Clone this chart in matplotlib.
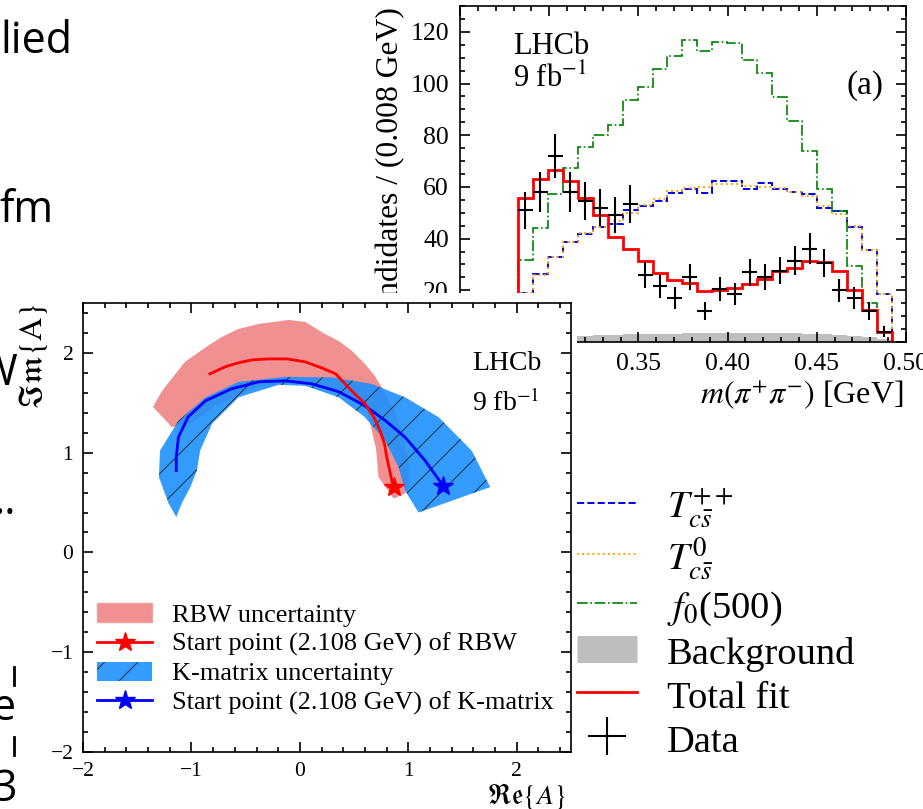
import numpy as np
import matplotlib
matplotlib.use("Agg")
import matplotlib.pyplot as plt
from matplotlib.patches import Patch, Rectangle
from matplotlib.lines import Line2D
from matplotlib.ticker import MultipleLocator, FuncFormatter

plt.rcParams['font.family'] = 'serif'
plt.rcParams['font.serif'] = ['Liberation Serif', 'DejaVu Serif']
plt.rcParams['mathtext.fontset'] = 'stix'
plt.rcParams['hatch.linewidth'] = 0.7

# --- panel (a): m(pi+ pi-) histogram ---
bin_lo = 0.2825
bin_width = 0.00838
data = [51.0, 58.0, 72.0, 58.0, 54.5, 52.0, 49.0, 53.5, 26.0, 21.5, 17.0, 25.0, 12.0,
        20.5, 18.5, 27.0, 25.0, 27.5, 31.5, 36.0, 30.5, 20.0, 17.0, 12.0, 4.0]
data_err = [7.1, 7.6, 8.5, 7.6, 7.4, 7.2, 7.0, 7.3, 5.1, 4.6, 4.1, 5.0, 3.5,
            4.5, 4.3, 5.2, 5.0, 5.2, 5.6, 6.0, 5.5, 4.5, 4.1, 3.5, 2.0]
total_fit = [55.8, 62.9, 66.4, 62.3, 55.6, 49.0, 40.7, 35.8, 31.3, 26.6, 24.0, 22.8, 19.6,
             20.2, 21.0, 22.3, 24.5, 27.5, 28.8, 31.5, 30.8, 27.3, 20.0, 12.5, 4.0]
tcs_pp = [19.1, 26.2, 33.0, 38.7, 41.9, 44.5, 45.5, 50.9, 52.6, 54.5, 57.8, 59.3, 57.5,
          62.3, 62.3, 59.3, 61.6, 59.3, 58.0, 57.1, 51.9, 50.7, 44.5, 35.6, 18.4]
tcs_0 = [19.1, 26.0, 33.0, 38.7, 42.0, 44.5, 47.0, 50.0, 53.0, 55.5, 58.5, 59.5, 60.0,
         61.0, 61.0, 60.5, 60.0, 59.5, 58.0, 56.5, 52.5, 49.5, 45.0, 35.6, 18.4]
f0_500 = [31.6, 44.2, 57.4, 67.5, 75.5, 80.0, 83.8, 93.7, 98.8, 105.5, 110.7, 116.9, 112.6,
          116.1, 115.8, 109.0, 104.2, 94.9, 85.5, 73.9, 59.1, 50.7, 29.4, 15.2, 4.0]
background = [1.0, 1.5, 2.0, 2.3, 2.5, 2.7, 2.8, 3.0, 3.0, 3.1, 3.2, 3.3, 3.3,
              3.4, 3.4, 3.5, 3.5, 3.4, 3.3, 3.2, 3.0, 2.8, 2.5, 2.0, 1.2]

# --- Argand diagram ---
rbw_re = [0.87, 0.85, 0.80, 0.78, 0.74, 0.68, 0.60, 0.46, 0.33, 0.20, 0.05, -0.12,
          -0.29, -0.44, -0.57, -0.69, -0.83]
rbw_im = [0.66, 0.71, 0.96, 1.09, 1.22, 1.36, 1.49, 1.64, 1.79, 1.85, 1.91, 1.94,
          1.94, 1.93, 1.90, 1.86, 1.79]
rbw_outer_re = [-1.355, -1.27, -1.06, -0.87, -0.72, -0.565, -0.38, -0.104, 0.05, 0.23,
                0.357, 0.48, 0.60, 0.69, 0.756, 0.88, 0.97, 1.01, 1.00, 0.97, 0.864]
rbw_outer_im = [1.46, 1.62, 1.91, 2.055, 2.16, 2.24, 2.29, 2.33, 2.31, 2.19,
                2.12, 2.02, 1.89, 1.77, 1.655, 1.40, 1.10, 0.85, 0.65, 0.59, 0.54]
rbw_inner_re = [-1.18, -1.0, -0.8, -0.4, 0.0, 0.4, 0.62, 0.70, 0.71, 0.725]
rbw_inner_im = [1.255, 1.30, 1.45, 1.66, 1.71, 1.62, 1.42, 1.05, 0.955, 0.755]

km_re = [1.32, 1.155, 0.97, 0.79, 0.60, 0.36, 0.11, -0.135, -0.38, -0.63, -0.87,
         -1.03, -1.12, -1.14, -1.14]
km_im = [0.67, 0.92, 1.155, 1.32, 1.47, 1.61, 1.69, 1.72, 1.71, 1.64, 1.52,
         1.36, 1.155, 0.955, 0.82]
km_outer_re = [1.755, 1.585, 1.28, 0.97, 0.66, 0.295, -0.135, -0.565, -0.87, -1.12,
               -1.29, -1.30, -1.21, -1.14]
km_outer_im = [0.655, 1.02, 1.355, 1.555, 1.69, 1.755, 1.76, 1.71, 1.555, 1.32,
               1.02, 0.755, 0.49, 0.355]
km_inner_re = [-1.09, -1.01, -0.95, -0.92, -0.81, -0.565, -0.196, 0.05, 0.357, 0.60,
               0.786, 0.91, 0.97, 1.094]
km_inner_im = [0.49, 0.655, 0.82, 1.02, 1.29, 1.555, 1.68, 1.67, 1.555, 1.355,
               1.12, 0.855, 0.62, 0.40]

W, H = 923, 809


def fx(px):
    return px / W


def fy(py):
    return 1 - py / H


fig = plt.figure(figsize=(W / 100, H / 100), dpi=100)

# fragments of the slide underneath
slide = dict(family='Open Sans', fontsize=31, color='black', ha='right', va='baseline')
fig.text(fx(73), fy(53), 'lied', **slide)
fig.text(fx(53), fy(222), 'fm', **slide)
fig.text(fx(17), fy(385), 'W', **slide)
fig.text(fx(16), fy(514), '..', **slide)
fig.text(fx(16), fy(720), 'e', **slide)
fig.text(fx(17), fy(801), '3', **slide)
fig.add_artist(Line2D([fx(14.5), fx(14.5)], [fy(667), fy(685)], color='black', lw=2))
fig.add_artist(Line2D([fx(14.5), fx(14.5)], [fy(737), fy(755)], color='black', lw=2))

# ---------- histogram panel ----------
ax_h = fig.add_axes([fx(460), fy(342), fx(906) - fx(460), fy(6) - fy(342)])
edges = bin_lo + bin_width * np.arange(len(data) + 1)
centers = 0.5 * (edges[1:] + edges[:-1])

ax_h.stairs(background, edges, fill=True, color='#bebebe', lw=0)
ax_h.stairs(tcs_pp, edges, color='blue', ls='--', lw=1.4, baseline=0)
ax_h.stairs(tcs_0, edges, color='orange', ls=':', lw=1.4, baseline=0)
ax_h.stairs(f0_500, edges, color='green', ls='-.', lw=1.2, baseline=0)
ax_h.stairs(total_fit, edges, color='red', lw=2, baseline=0)
eb = ax_h.errorbar(centers, data, xerr=bin_width / 2, yerr=data_err, fmt='none',
                   ecolor='black', elinewidth=1.5, capsize=0)

ax_h.set_xlim(0.25, 0.50)
ax_h.set_ylim(0, 130)
ax_h.xaxis.set_major_locator(MultipleLocator(0.05))
ax_h.xaxis.set_minor_locator(MultipleLocator(0.01))
# labels under the Argand panel are hidden anyway
ax_h.xaxis.set_major_formatter(FuncFormatter(lambda v, p: '%.2f' % v if v > 0.33 else ''))
ax_h.yaxis.set_major_locator(MultipleLocator(20))
ax_h.yaxis.set_minor_locator(MultipleLocator(5))
ax_h.yaxis.set_major_formatter(FuncFormatter(lambda v, p: '%d' % v if v > 10 else ''))
ax_h.tick_params(which='both', direction='in', top=True, right=True, width=1.2)
ax_h.tick_params(which='major', length=7, labelsize=18.5, pad=8)
ax_h.tick_params(which='minor', length=3.5)
for s in ax_h.spines.values():
    s.set_linewidth(1.2)
ax_h.set_ylabel('Candidates / (0.008 GeV)', fontsize=22.8, ha='right')
ax_h.yaxis.set_label_coords(-0.123, 0.997)
ax_h.set_xlabel(r'$m(\pi^{+}\pi^{-})$ [GeV]', fontsize=23, ha='right')
ax_h.xaxis.set_label_coords(0.995, -0.11)
ax_h.text(fx(513), fy(54), 'LHCb', transform=fig.transFigure, fontsize=22, va='baseline')
ax_h.text(fx(513), fy(87), r'9 fb$^{-1}$', transform=fig.transFigure, fontsize=22,
          va='baseline')
ax_h.text(fx(884), fy(86), '(a)', transform=fig.transFigure, fontsize=24,
          ha='right', va='center')

hist_handles = [
    Line2D([], [], color='blue', ls='--', lw=1.4),
    Line2D([], [], color='orange', ls=':', lw=1.4),
    Line2D([], [], color='green', ls='-.', lw=1.2),
    Line2D([], [], color='#bebebe', lw=19.5, solid_capstyle='butt'),
    Line2D([], [], color='red', lw=2),
    eb,
]
hist_labels = [r'$T_{c\bar{s}}^{++}$', r'$T_{c\bar{s}}^{0}$', r'$f_0$(500)',
               'Background', 'Total fit', 'Data']
fig.legend(hist_handles, hist_labels, loc='upper left',
           bbox_to_anchor=(fx(577), fy(487)), bbox_transform=fig.transFigure,
           frameon=False, fontsize=27.7, borderpad=0, borderaxespad=0,
           handlelength=1.56, handleheight=1.04, handletextpad=0.78,
           labelspacing=0.13)

# white panel of the Argand figure laid over the histogram
fig.add_artist(Rectangle((fx(20), 0), fx(577) - fx(20), fy(293),
                         transform=fig.transFigure, facecolor='white',
                         edgecolor='none', zorder=1))

# ---------- Argand panel ----------
ax_a = fig.add_axes([fx(83), fy(752), fx(571) - fx(83), fy(303) - fy(752)], zorder=3)
ax_a.set_facecolor('none')
pink = '#f09090'
ax_a.fill(np.r_[rbw_outer_re, rbw_inner_re[::-1]], np.r_[rbw_outer_im, rbw_inner_im[::-1]],
          facecolor=pink, edgecolor='none', lw=0, zorder=1)
ax_a.fill(np.r_[km_outer_re, km_inner_re], np.r_[km_outer_im, km_inner_im],
          facecolor='dodgerblue', edgecolor='#222222', hatch='/', lw=0, alpha=0.9, zorder=2)
ax_a.plot(km_re, km_im, color='blue', lw=2, zorder=3)
ax_a.plot(rbw_re, rbw_im, color='red', lw=2, zorder=4)
ax_a.plot(rbw_re[0], rbw_im[0], marker='*', color='red', ms=15, zorder=5)
ax_a.plot(km_re[0], km_im[0], marker='*', color='blue', ms=15, zorder=5)

ax_a.set_xlim(-2, 2.5)
ax_a.set_ylim(-2, 2.5)
ax_a.xaxis.set_major_locator(MultipleLocator(1))
ax_a.xaxis.set_minor_locator(MultipleLocator(0.2))
ax_a.yaxis.set_major_locator(MultipleLocator(1))
ax_a.yaxis.set_minor_locator(MultipleLocator(0.2))
ax_a.tick_params(which='both', direction='in', top=True, right=True, width=1.2)
ax_a.tick_params(which='major', length=7, labelsize=15.5, pad=7)
ax_a.tick_params(which='minor', length=3.5)
for s in ax_a.spines.values():
    s.set_linewidth(1.2)
ax_a.set_xlabel(r'$\mathfrak{Re}\{A\}$', fontsize=20, ha='right')
ax_a.xaxis.set_label_coords(0.99, -0.064)
ax_a.set_ylabel(r'$\mathfrak{Im}\{\mathrm{A}\}$', fontsize=23, ha='right')
ax_a.yaxis.set_label_coords(-0.068, 1.0)
ax_a.text(fx(472), fy(364), 'LHCb', transform=fig.transFigure, fontsize=20, va='center')
ax_a.text(fx(472), fy(403), r'9 fb$^{-1}$', transform=fig.transFigure, fontsize=20,
          va='center')

argand_handles = [
    Patch(facecolor=pink, edgecolor='#f4a0a0', lw=1),
    Line2D([], [], color='red', lw=2, marker='*', ms=15),
    Patch(facecolor='dodgerblue', edgecolor='#222222', hatch='/', lw=0, alpha=0.9),
    Line2D([], [], color='blue', lw=2, marker='*', ms=15),
]
argand_labels = ['RBW uncertainty', 'Start point (2.108 GeV) of RBW',
                 'K-matrix uncertainty', 'Start point (2.108 GeV) of K-matrix']
ax_a.legend(argand_handles, argand_labels, loc='upper left',
            bbox_to_anchor=(fx(97), fy(603)), bbox_transform=fig.transFigure,
            frameon=False, fontsize=18.9, borderpad=0, borderaxespad=0,
            handlelength=2.1, handleheight=0.76, handletextpad=0.76,
            labelspacing=0.2, numpoints=1)

fig.savefig('out.png', dpi=100)
